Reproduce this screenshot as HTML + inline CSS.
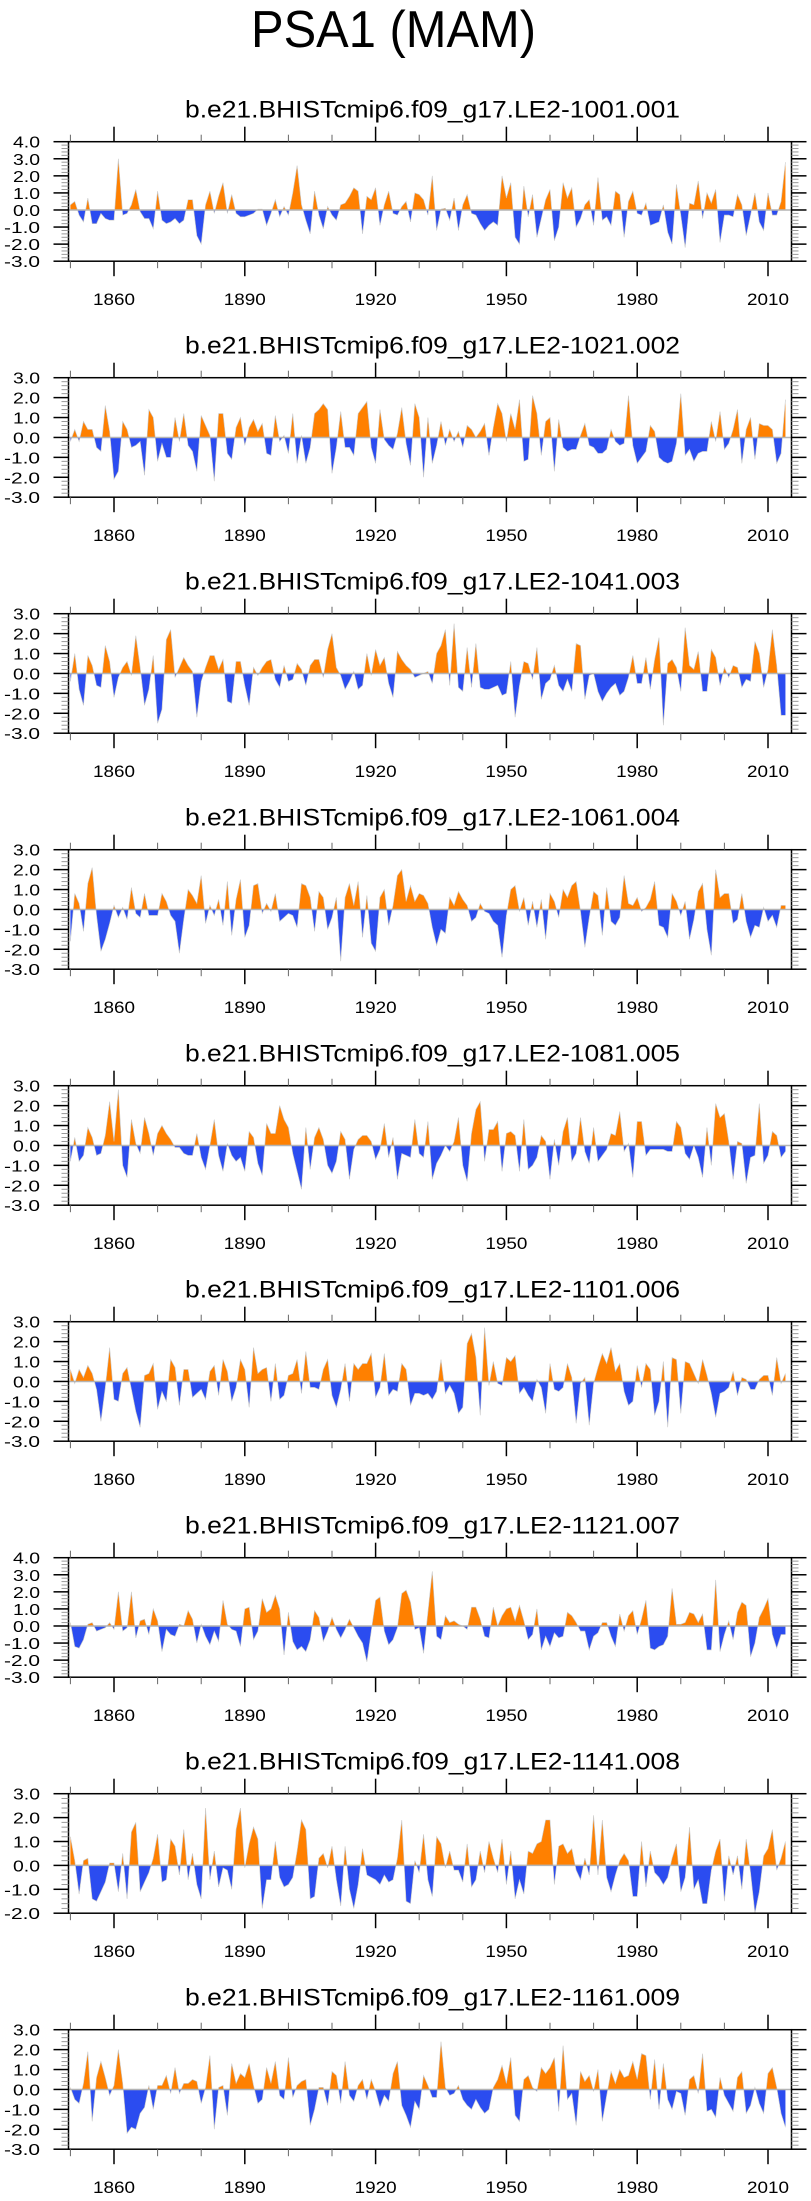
<!DOCTYPE html>
<html><head><meta charset="utf-8"><title>PSA1 (MAM)</title>
<style>
html,body{margin:0;padding:0;background:#fff;}
svg{display:block;font-family:"Liberation Sans",Arial,sans-serif;}
</style></head>
<body>
<svg id="chart" width="811" height="2201" viewBox="0 0 811 2201" xmlns="http://www.w3.org/2000/svg">
<rect width="811" height="2201" fill="#fff"/>
<text x="251" y="47" font-size="52" textLength="285" lengthAdjust="spacingAndGlyphs">PSA1 (MAM)</text>
</svg>
<script>
const startYear = 1850;
const tickYears = [1860,1890,1920,1950,1980,2010];
const memberNames = ["b.e21.BHISTcmip6.f09_g17.LE2-1001.001","b.e21.BHISTcmip6.f09_g17.LE2-1021.002","b.e21.BHISTcmip6.f09_g17.LE2-1041.003","b.e21.BHISTcmip6.f09_g17.LE2-1061.004","b.e21.BHISTcmip6.f09_g17.LE2-1081.005","b.e21.BHISTcmip6.f09_g17.LE2-1101.006","b.e21.BHISTcmip6.f09_g17.LE2-1121.007","b.e21.BHISTcmip6.f09_g17.LE2-1141.008","b.e21.BHISTcmip6.f09_g17.LE2-1161.009"];
const yMins = [-3,-3,-3,-3,-3,-3,-3,-2,-3];
const yMaxs = [4,3,3,3,3,3,4,3,3];

const p1 = [0.3,0.5,-0.3,-0.7,0.7,-0.8,-0.8,-0.2,-0.5,-0.6,
-0.6,3.0,-0.3,-0.2,0.3,1.2,-0.1,-0.5,-0.5,-1.1,
1.1,-0.6,-0.8,-0.7,-0.5,-0.8,-0.6,0.6,0.6,-1.5,
-2.0,0.3,1.1,-0.2,0.8,1.6,-0.2,0.9,-0.2,-0.4,
-0.4,-0.3,-0.2,0.05,0.05,-0.9,-0.2,0.6,-0.4,0.2,
-0.3,1.0,2.6,0.3,-0.6,-1.4,1.1,-0.3,-1.1,0.2,
-0.3,-0.6,0.3,0.4,0.8,1.3,1.1,-1.4,0.8,0.6,
1.3,-0.9,0.3,1.1,-0.2,-0.3,0.2,0.5,-0.7,1.0,
0.9,0.6,-0.3,2.0,-1.2,0.05,0.1,-0.6,0.7,-1.2,
0.3,0.9,-0.2,-0.3,-0.8,-1.2,-0.9,-0.7,-0.9,2.0,
0.7,1.6,-1.6,-2.0,1.4,-0.4,0.9,-1.6,-0.5,0.6,
1.2,-1.8,-1.0,1.6,0.7,1.3,-1.0,-0.5,0.3,0.6,
-0.9,1.9,-0.6,-0.4,-0.9,1.1,0.9,-1.6,0.5,1.1,
-0.2,-0.3,0.4,-0.9,-0.8,-0.7,0.3,-1.3,-2.0,1.5,
-0.3,-2.2,0.4,0.3,1.7,-0.5,1.0,0.4,1.2,-1.9,
-0.3,-0.3,-0.4,0.9,0.3,-1.5,-0.3,1.0,-0.7,-1.2,
1.0,-0.3,-0.3,0.5,2.8];
const p2 = [-0.2,0.4,-0.2,0.8,0.4,0.4,-0.5,-0.7,1.6,0.3,
-2.1,-1.7,0.8,0.4,-0.5,-0.4,-0.2,-1.9,1.4,1.0,
-1.2,-0.3,-1.0,-1.0,1.0,-0.2,1.2,-0.4,-0.7,-1.7,
1.1,0.6,0.1,-2.2,1.2,1.2,-0.8,-1.1,0.5,1.0,
-0.4,0.5,0.9,0.3,0.7,-0.8,-0.9,1.1,-0.2,0.1,
-0.8,1.2,-1.3,0.1,-1.3,-0.5,1.2,1.4,1.7,1.4,
-1.8,-0.5,1.3,-0.5,-0.5,-0.9,1.2,1.5,1.8,-0.5,
-1.3,1.4,-0.1,-0.4,-0.6,0.2,1.5,-0.3,-1.4,1.7,
1.0,-2.0,1.0,-1.3,-0.4,0.8,-0.4,0.4,-0.2,0.3,
-0.5,0.6,0.4,0.0,0.3,0.7,-0.9,0.5,1.7,1.2,
-0.2,1.2,0.4,1.9,-1.2,-1.1,2.1,1.2,-0.9,0.8,
1.0,-1.7,0.9,-0.5,-0.7,-0.6,-0.6,0.1,0.7,-0.4,
-0.5,-0.8,-0.8,-0.6,0.4,-0.2,-0.4,-0.3,2.1,-0.4,
-1.3,-1.0,-0.7,0.6,0.3,-1.0,-1.2,-1.3,-1.2,-0.3,
2.2,-0.9,-0.6,-1.2,-0.8,-0.7,-0.7,0.8,-0.2,1.3,
-0.6,-0.3,0.4,1.4,-1.3,0.4,1.0,-1.1,0.7,0.6,
0.6,0.4,-1.3,-0.8,1.9];
const p3 = [-0.4,1.0,-0.8,-1.6,0.9,0.4,-0.6,-0.7,1.4,0.6,
-1.2,-0.2,0.3,0.6,-0.1,1.9,0.3,-1.6,-0.8,0.9,
-2.5,-1.8,1.7,2.2,-0.2,0.3,0.8,0.4,0.1,-2.2,
-0.4,0.3,0.9,0.9,0.2,0.7,-1.4,-1.5,0.6,0.6,
-0.6,-1.6,0.3,-0.1,0.3,0.6,0.7,-0.3,-0.7,0.4,
-0.4,-0.3,0.5,0.2,-0.6,0.4,0.7,0.7,-0.2,1.2,
2.0,0.3,-0.1,-0.8,-0.4,0.1,-0.8,-0.6,1.0,-0.1,
1.2,0.4,0.8,-0.5,-1.2,1.1,0.7,0.4,0.2,-0.2,
-0.1,0.0,0.1,-0.5,1.0,1.4,2.2,-0.6,2.5,-0.7,
-0.9,1.3,-0.7,1.5,-0.7,-0.8,-0.8,-0.7,-0.6,-1.1,
-1.0,0.6,-2.2,-0.6,0.6,0.5,-0.3,1.3,-1.3,-0.5,
-0.3,0.4,-0.6,-0.9,-0.3,-0.9,1.5,1.4,-1.3,-0.1,
0.0,-0.9,-1.4,-1.0,-0.7,-0.5,-1.1,-0.9,-0.2,0.9,
-0.5,-0.5,0.8,-0.8,0.7,1.8,-2.6,0.5,0.7,0.3,
-0.9,2.3,0.4,0.2,1.1,-0.9,-0.9,1.2,0.8,-0.6,
0.3,-0.2,0.4,0.3,-0.7,-0.3,-0.4,1.6,1.0,-0.7,
0.2,2.2,0.4,-2.1,-2.1];
const p4 = [-1.6,0.8,0.3,-1.1,1.3,2.1,-0.3,-2.1,-1.5,-0.7,
0.2,-0.4,0.1,-0.5,1.1,-0.2,-0.4,0.8,-0.3,-0.3,
-0.3,0.8,0.4,-0.3,-0.6,-2.2,-0.5,1.0,0.7,0.3,
1.7,-0.7,0.2,-0.3,0.5,-0.8,1.4,-1.3,0.5,1.5,
-1.4,-0.8,1.2,1.3,-0.2,0.3,-0.1,0.8,-0.6,-0.4,
-0.2,-0.3,-0.9,1.3,1.2,0.6,-1.1,0.9,0.6,-1.0,
-0.4,0.6,-2.6,0.6,1.3,0.2,1.4,-1.4,0.7,-1.7,
-2.1,0.6,1.0,-0.8,0.2,1.7,2.0,0.4,1.2,0.4,
0.8,0.7,0.3,-0.9,-1.8,-1.0,-1.2,0.6,0.2,0.9,
0.5,0.2,-0.6,-0.4,0.3,-0.1,-0.2,-0.6,-0.8,-2.4,
-0.3,1.0,1.2,-0.1,0.6,-0.8,0.4,-0.9,0.5,-1.5,
0.8,0.4,-0.4,1.0,0.6,1.2,1.4,-0.1,-1.9,-0.4,
0.9,0.7,-1.3,1.1,-0.6,-0.8,-0.4,1.7,0.3,0.2,
0.6,-0.1,0.1,0.5,1.4,-0.8,-0.9,-1.4,0.8,0.4,
-0.3,0.4,-1.5,-0.5,0.9,1.3,-1.0,-2.3,2.0,0.6,
0.8,0.8,-0.7,-0.5,0.8,-0.6,-1.4,-0.8,-0.9,0.1,
-0.6,-0.3,-0.9,0.2,0.2];
const p5 = [-0.8,0.4,-0.8,-0.5,0.9,0.4,-0.5,-0.4,0.5,2.2,
0.2,2.8,-1.0,-1.6,1.3,0.1,-0.4,1.4,0.6,-0.5,
0.6,1.0,0.6,0.3,-0.1,-0.1,-0.4,-0.5,-0.5,0.6,
-0.6,-1.2,0.0,1.3,-0.5,-1.3,0.1,-0.5,-0.8,-0.6,
-1.3,0.7,0.4,-0.9,-1.5,1.1,0.6,0.6,2.0,1.3,
0.9,-0.4,-1.3,-2.2,0.9,-1.2,0.4,0.9,0.3,-1.0,
-1.4,-0.8,0.7,0.3,-1.7,-0.2,0.3,0.5,0.5,0.2,
-0.7,-0.2,1.1,-0.6,0.4,-1.7,-0.4,-0.5,-0.6,1.3,
-0.4,-0.6,1.2,-1.7,-0.9,-0.5,0.0,-0.3,0.2,1.4,
-1.0,-1.8,0.6,1.8,2.2,-0.8,0.8,0.8,1.2,-1.3,
0.6,0.7,0.5,-1.3,1.3,-1.2,-1.0,-0.6,0.5,0.2,
-1.7,0.3,-1.0,0.7,1.4,-0.8,-0.4,1.4,-0.3,-0.9,
0.9,-0.8,-0.5,-0.2,0.6,0.5,1.7,-0.3,0.1,-1.6,
1.2,1.2,-0.5,-0.2,-0.2,-0.2,-0.2,-0.3,-0.3,1.2,
0.9,-0.4,-0.7,0.0,-0.6,-1.6,0.9,-1.0,2.1,1.4,
1.6,0.2,-1.7,0.2,0.1,-1.9,-0.6,-0.5,2.1,-0.9,
-0.5,0.7,0.5,-0.6,-0.3];
const p6 = [0.6,-0.1,0.6,0.2,0.8,0.4,-0.4,-2.0,-0.3,1.7,
-0.9,-1.0,0.4,0.7,-0.4,-1.5,-2.3,0.3,0.4,0.9,
-1.4,-0.5,-1.0,1.1,0.7,-1.2,0.6,0.6,-0.8,-0.6,
-0.4,-0.9,0.5,0.8,-0.7,1.1,0.5,-1.0,-0.3,1.1,
0.6,-1.3,1.7,0.4,0.6,0.7,-1.0,0.9,-0.9,-0.7,
0.3,0.4,1.1,-0.6,1.5,-0.3,-0.3,-0.4,0.6,1.1,
-0.7,-1.3,-0.4,0.9,-1.0,0.9,0.6,0.9,0.9,1.4,
-0.8,-0.3,1.4,-0.7,-0.4,-0.5,0.9,0.6,-1.2,-0.6,
-0.6,-0.7,-0.6,-0.9,-0.5,1.1,-0.6,-0.2,-0.6,-1.6,
-1.3,1.9,2.4,1.2,-1.7,2.7,-0.2,1.0,-0.1,-0.2,
1.2,1.0,1.3,-0.6,-0.3,-0.7,-1.0,0.1,-0.3,-1.6,
0.9,-0.4,-0.5,-0.3,0.9,0.2,-2.1,-0.1,0.2,-2.2,
-0.1,0.7,1.4,0.9,1.7,0.5,0.9,-0.5,-1.2,-1.0,
0.8,-0.3,0.9,0.6,-1.7,-1.0,1.0,-2.3,1.2,1.1,
-1.6,1.0,0.9,0.4,-0.1,1.1,0.3,-0.6,-1.8,-0.6,
-0.5,-0.3,0.5,-0.7,0.2,0.1,-0.4,-0.4,0.1,0.3,
0.3,-0.7,1.2,-0.1,0.4];
const p7 = [0.2,-1.2,-1.3,-0.8,0.1,0.2,-0.3,-0.2,-0.1,0.2,
-0.2,2.0,-0.3,-0.1,2.0,-0.7,0.3,0.4,-0.5,1.0,
0.3,-1.5,-0.2,-0.5,-0.6,0.1,0.0,0.9,0.4,-1.0,
0.1,-0.6,-1.1,-0.3,-0.9,1.5,0.1,-0.2,-0.3,-1.2,
1.0,1.1,-0.8,-0.3,1.6,0.8,1.0,1.8,1.0,-1.7,
0.8,-0.9,-1.4,-1.2,-1.5,-0.8,0.9,0.5,-0.9,-0.3,
0.5,-0.2,-0.7,-0.2,0.4,-0.1,-0.6,-1.0,-2.1,-0.3,
1.5,1.7,-0.3,-1.1,-0.8,-0.1,1.9,2.1,1.4,-0.2,
-0.1,-1.6,0.8,3.2,-0.6,-0.8,0.6,0.2,0.3,0.1,
0.0,-0.2,1.1,1.1,0.4,-0.6,-0.7,1.1,0.0,0.6,
1.0,1.1,0.3,1.2,0.3,-0.8,-0.5,1.0,-1.4,-0.6,
-1.2,-0.4,-0.7,-0.6,0.8,0.6,0.2,-0.3,-0.3,-1.4,
-0.6,-0.4,0.2,0.2,-0.6,-1.2,0.7,-0.3,0.6,0.9,
-0.5,0.4,1.5,-1.3,-1.4,-1.2,-1.1,-0.6,2.2,0.1,
0.1,0.2,0.8,0.7,0.2,0.7,-1.4,-1.4,2.7,-1.5,
-0.5,0.3,-0.8,0.8,1.4,1.2,-1.8,-1.0,0.5,1.0,
1.6,-0.5,-1.3,-0.5,-0.5];
const p8 = [1.2,0.2,-1.2,0.2,0.3,-1.4,-1.5,-1.1,-0.7,0.1,
0.1,-1.1,0.5,-1.4,1.4,1.8,-1.1,-0.7,-0.3,0.3,
1.3,-0.7,-0.6,1.1,0.8,-0.4,1.5,-0.6,0.5,-0.8,
-1.4,2.4,-0.6,0.6,-0.9,-0.1,-0.2,-1.0,1.5,2.4,
-0.1,0.9,1.6,1.1,-1.8,-0.6,-0.6,1.0,-0.5,-0.9,
-0.8,-0.5,0.6,1.9,1.5,-1.4,-1.3,0.3,0.5,-0.1,
0.8,-0.6,-1.7,0.8,-1.0,-1.8,-0.8,0.7,-0.4,-0.5,
-0.6,-0.8,-0.4,-0.7,-0.6,0.3,1.9,-1.5,-1.6,0.2,
-0.3,1.3,-0.6,-1.3,1.2,0.9,-0.1,0.6,-0.2,-0.2,
-0.7,0.9,-0.9,-0.6,0.6,-0.3,1.0,0.3,-0.3,1.1,
-0.8,0.6,-1.4,-0.6,-1.2,0.6,0.5,0.9,1.0,1.9,
1.9,-0.8,0.8,0.9,0.5,0.7,-0.2,-0.6,0.3,-0.4,
2.1,-0.4,1.9,-0.5,-1.1,-0.4,0.2,0.5,0.2,-1.3,
-1.3,1.0,-0.9,0.6,-0.3,-0.5,-0.8,-0.5,0.3,0.9,
-1.1,-0.5,1.6,-1.0,-0.6,-1.6,-1.6,-0.2,0.6,1.1,
-1.5,0.4,-0.4,0.4,-1.0,1.1,-0.3,-2.0,-1.1,0.4,
0.7,1.5,-0.2,0.3,1.0];
const p9 = [0.1,-0.5,-0.7,0.3,1.9,-1.6,0.6,1.4,0.6,-0.3,
0.2,2.0,0.3,-2.2,-1.9,-2.0,-1.2,-0.9,0.2,-1.0,
0.2,0.2,0.7,-0.2,1.1,-0.2,0.3,0.3,0.5,0.4,
-0.7,0.1,1.7,-2.0,0.1,0.2,-1.3,1.3,0.3,0.8,
0.6,1.3,0.2,-0.7,-0.5,1.1,0.3,1.4,-0.3,-0.5,
1.6,-0.4,0.2,0.4,0.5,-1.8,-1.0,0.1,0.1,-0.8,
0.9,0.7,-0.7,1.4,-0.3,-0.6,0.2,0.5,-0.5,0.5,
-0.1,-0.9,-0.3,-0.6,0.8,1.4,-0.8,-1.3,-1.9,-0.6,
-1.0,0.7,0.2,-0.4,-0.4,2.4,0.1,-0.3,-0.2,0.2,
-0.5,-0.8,-1.0,-0.5,-0.9,-1.2,-1.0,0.1,0.5,1.2,
0.3,1.6,-1.3,-1.6,0.5,0.7,0.1,-0.1,1.1,0.8,
1.1,1.6,-1.1,2.2,-0.5,-0.2,-1.8,0.9,0.4,0.7,
-0.1,1.0,-1.6,-0.3,0.9,0.3,1.0,0.6,0.7,1.4,
0.5,1.8,1.7,-0.5,1.5,-1.0,1.3,-0.5,-1.0,-0.1,
-0.2,-1.3,0.5,0.7,-0.2,1.8,-1.1,-1.0,-1.4,0.6,
-0.3,-0.7,-1.1,0.6,0.9,-1.2,-0.8,0.1,-0.7,-1.2,
0.8,1.1,0.1,-1.2,-1.9];
const series = [p1,p2,p3,p4,p5,p6,p7,p8,p9];

const NS = "http://www.w3.org/2000/svg";
const svg = document.getElementById("chart");
const L = 68.5, R = 791.5, H = 119.5, TOP0 = 141.7, PITCH = 236;
function xScale(yr){ return 70.4 + (yr - startYear) * 4.36; }
function mk(tag, attrs, parent){
  const e = document.createElementNS(NS, tag);
  for (const k in attrs) e.setAttribute(k, attrs[k]);
  (parent || svg).appendChild(e);
  return e;
}

series.forEach((vals, i) => {
  const top = TOP0 + i * PITCH, bot = top + H;
  const ymin = yMins[i], ymax = yMaxs[i];
  const yScale = v => bot - (v - ymin) / (ymax - ymin) * H;
  const g = mk("g", {});
  
  

  const t = mk("text", {x: 185, y: top - 24, "font-size": 24, textLength: 495, lengthAdjust: "spacingAndGlyphs"}, g);
  t.textContent = memberNames[i];
  
  

  const z = yScale(0);
  const cid = "c" + i;
  const defs = mk("defs", {}, g);
  const cu = mk("clipPath", {id: cid + "u"}, defs);
  mk("rect", {x: L, y: top, width: R - L, height: z - top}, cu);
  const cd = mk("clipPath", {id: cid + "d"}, defs);
  mk("rect", {x: L, y: z, width: R - L, height: bot - z}, cd);

  let pts = vals.map((v, k) => xScale(startYear + k).toFixed(2) + "," + yScale(v).toFixed(2));
  const x0 = xScale(startYear), xn = xScale(startYear + vals.length - 1);
  const d = "M" + x0 + "," + z + " L" + pts.join(" L") + " L" + xn + "," + z + " Z";
  const up = mk("path", {d: d, fill: "#ff8000", "clip-path": "url(#" + cid + "u)"}, g);
  
  
  const dn = mk("path", {d: d, fill: "#2b4cf0", "clip-path": "url(#" + cid + "d)"}, g);
  
  
  mk("path", {d: "M" + pts.join(" L"), fill: "none", stroke: "#c8c8c8", "stroke-width": 0.6}, g);
  const zl = mk("line", {x1: L, x2: R, y1: z, y2: z, stroke: "#b4b4b4", "stroke-width": 1.5}, g);
  
  

  const frame = mk("rect", {x: L, y: top, width: R - L, height: H, fill: "none", stroke: "#000", "stroke-width": 1.5}, g);
  
  

  // x ticks
  for (let yr = 1850; yr <= 2010; yr += 10) {
    const x = xScale(yr), major = tickYears.includes(yr);
    const len = major ? 15 : 7, col = major ? "#000" : "#666", w = major ? 1.5 : 1;
    mk("line", {x1: x, x2: x, y1: top, y2: top - len, stroke: col, "stroke-width": w}, g);
    mk("line", {x1: x, x2: x, y1: bot, y2: bot + len, stroke: col, "stroke-width": w}, g);
  }
  tickYears.forEach(yr => {
    const lb = mk("text", {x: xScale(yr), y: bot + 44, "font-size": 17, "text-anchor": "middle", textLength: 42, lengthAdjust: "spacingAndGlyphs"}, g);
    lb.textContent = String(yr);
    
    
  });
  // y ticks
  for (let k = 0; k <= (ymax - ymin) * 5; k++) {
    const v = ymin + k * 0.2, y = yScale(v);
    const major = k % 5 === 0;
    const len = major ? 15 : 7, col = major ? "#000" : "#999", w = major ? 1.5 : 1;
    mk("line", {x1: L, x2: L - len, y1: y, y2: y, stroke: col, "stroke-width": w}, g);
    mk("line", {x1: R, x2: R + len, y1: y, y2: y, stroke: col, "stroke-width": w}, g);
    if (major) {
      const s = (Math.round(v)).toFixed(1);
      const lb = mk("text", {x: 40, y: y + 6, "font-size": 16, "text-anchor": "end", textLength: s.length > 3 ? 36 : 27, lengthAdjust: "spacingAndGlyphs"}, g);
      lb.textContent = s;
      
      
    }
  }
});
</script>
</body></html>
